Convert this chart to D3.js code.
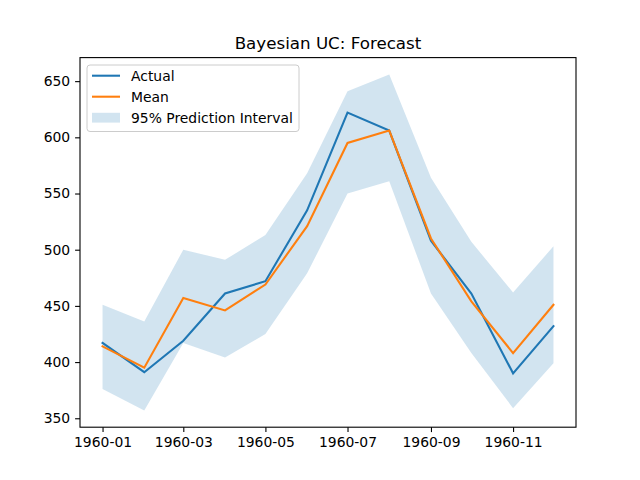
<!DOCTYPE html>
<html>
  <head>
    <meta charset="utf-8" />
    <title>Bayesian UC: Forecast</title>
    <style>
      body {
        margin: 0;
        background: #fff;
      }
      text {
        font-family: "DejaVu Sans", sans-serif;
      }
    </style>
    <script src="https://d3js.org/d3.v7.min.js"></script>
  </head>
  <body>
    <div id="chart"></div>
    <script type="text/javascript">
      // data
      var months = ["1960-01", "1960-02", "1960-03", "1960-04", "1960-05", "1960-06",
                    "1960-07", "1960-08", "1960-09", "1960-10", "1960-11", "1960-12"];
      var actual = [417, 391, 419, 461, 472, 535, 622, 606, 508, 461, 390, 432];
      var mean = [414, 395, 457, 446, 469, 521, 595, 606, 510, 454, 408, 451];
      var upper = [451, 436, 500, 491, 513, 568, 641, 656, 564, 507, 462, 503];
      var lower = [376, 357, 417, 404, 425, 479, 550, 561, 461, 408, 359, 399];
      var yTicks = [350, 400, 450, 500, 550, 600, 650];
      var xTicks = ["1960-01", "1960-03", "1960-05", "1960-07", "1960-09", "1960-11"];

      var w = 640;
      var h = 480;
      // plot box (window.top is reserved, so prefixed names)
      var pLeft = 80, pRight = 576, pTop = 57.6, pBottom = 427.2;
      var lw = 2.08; // 1.5pt at 100 dpi

      var parse = d3.timeParse("%Y-%m");
      var dates = months.map(parse);

      var rows = dates.map(function (d, i) {
        return { date: d, actual: actual[i], mean: mean[i], upper: upper[i], lower: lower[i] };
      });

      // matplotlib style 5% margins
      var t0 = dates[0].getTime(), t1 = dates[dates.length - 1].getTime();
      var pad = (t1 - t0) * 0.05;
      var x = d3.scaleTime()
        .domain([new Date(t0 - pad), new Date(t1 + pad)])
        .range([pLeft, pRight]);

      var ymin = d3.min(lower), ymax = d3.max(upper);
      var ypad = (ymax - ymin) * 0.05;
      var y = d3.scaleLinear()
        .domain([ymin - ypad, ymax + ypad])
        .range([pBottom, pTop]);

      var svg = d3.select("#chart").append("svg")
        .attr("width", w)
        .attr("height", h);

      // prediction band
      var area = d3.area()
        .x(function (d) { return x(d.date); })
        .y0(function (d) { return y(d.lower); })
        .y1(function (d) { return y(d.upper); });

      svg.append("path")
        .datum(rows)
        .attr("d", area)
        .attr("fill", "#1f77b4")
        .attr("fill-opacity", 0.2);

      var lineActual = d3.line()
        .x(function (d) { return x(d.date); })
        .y(function (d) { return y(d.actual); });
      var lineMean = d3.line()
        .x(function (d) { return x(d.date); })
        .y(function (d) { return y(d.mean); });

      svg.append("path")
        .datum(rows)
        .attr("d", lineActual)
        .attr("fill", "none")
        .attr("stroke", "#1f77b4")
        .attr("stroke-width", lw)
        .attr("stroke-linecap", "square");

      svg.append("path")
        .datum(rows)
        .attr("d", lineMean)
        .attr("fill", "none")
        .attr("stroke", "#ff7f0e")
        .attr("stroke-width", lw)
        .attr("stroke-linecap", "square");

      // axes
      var xAxis = d3.axisBottom(x)
        .tickValues(xTicks.map(parse))
        .tickFormat(d3.timeFormat("%Y-%m"))
        .tickSize(4.9)
        .tickPadding(4.9);
      var yAxis = d3.axisLeft(y)
        .tickValues(yTicks)
        .tickSize(4.9)
        .tickPadding(4.9);

      var gx = svg.append("g")
        .attr("transform", "translate(0," + pBottom + ")")
        .call(xAxis);
      var gy = svg.append("g")
        .attr("transform", "translate(" + pLeft + ",0)")
        .call(yAxis);

      [gx, gy].forEach(function (g) {
        g.select(".domain").remove();
        g.selectAll("line").attr("stroke", "#000").attr("stroke-width", 1.1);
        g.selectAll("text")
          .attr("font-family", "DejaVu Sans")
          .attr("font-size", 13.9)
          .attr("fill", "#000");
      });

      // frame
      svg.append("rect")
        .attr("x", pLeft)
        .attr("y", pTop)
        .attr("width", pRight - pLeft)
        .attr("height", pBottom - pTop)
        .attr("fill", "none")
        .attr("stroke", "#000")
        .attr("stroke-width", 1.1);

      // title
      svg.append("text")
        .attr("x", (pLeft + pRight) / 2)
        .attr("y", pTop - 9)
        .attr("text-anchor", "middle")
        .attr("font-size", 16.7)
        .attr("fill", "#000")
        .text("Bayesian UC: Forecast");

      // legend
      var legend = svg.append("g");
      legend.append("rect")
        .attr("x", 87)
        .attr("y", 65)
        .attr("width", 212)
        .attr("height", 66.5)
        .attr("rx", 3)
        .attr("fill", "#fff")
        .attr("fill-opacity", 0.8)
        .attr("stroke", "#ccc")
        .attr("stroke-width", 1);

      var items = [
        { label: "Actual", type: "line", color: "#1f77b4" },
        { label: "Mean", type: "line", color: "#ff7f0e" },
        { label: "95% Prediction Interval", type: "patch", color: "#1f77b4" }
      ];

      items.forEach(function (it, i) {
        var cy = 75.7 + i * 21;
        if (it.type === "line") {
          legend.append("line")
            .attr("x1", 92).attr("x2", 120)
            .attr("y1", cy).attr("y2", cy)
            .attr("stroke", it.color)
            .attr("stroke-width", lw);
        } else {
          legend.append("rect")
            .attr("x", 92).attr("y", cy - 4.9)
            .attr("width", 28).attr("height", 9.8)
            .attr("fill", it.color)
            .attr("fill-opacity", 0.2);
        }
        legend.append("text")
          .attr("x", 131)
          .attr("y", cy)
          .attr("dy", "0.35em")
          .attr("font-size", 13.9)
          .attr("fill", "#000")
          .text(it.label);
      });
    </script>
  </body>
</html>
